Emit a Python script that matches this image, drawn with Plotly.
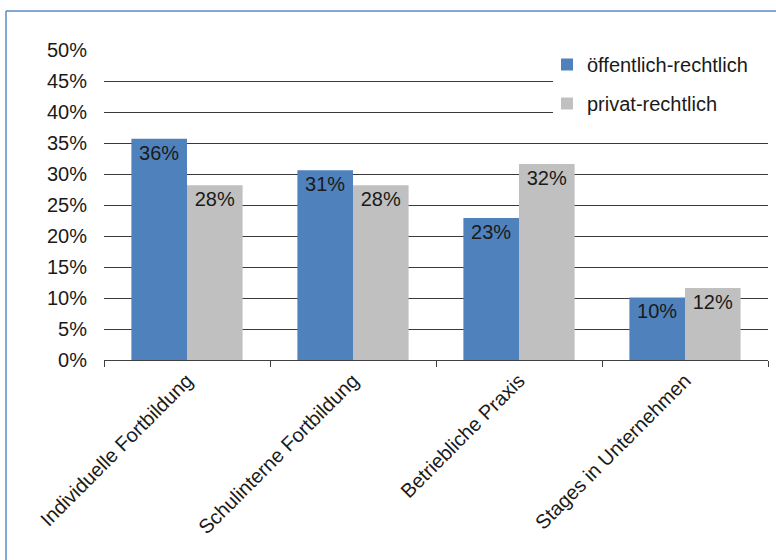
import plotly.graph_objects as go

categories = ["Individuelle Fortbildung", "Schulinterne Fortbildung",
              "Betriebliche Praxis", "Stages in Unternehmen"]
oeffentlich = [35.7, 30.6, 22.9, 10.1]
privat = [28.2, 28.2, 31.6, 11.6]
series_names = ["öffentlich-rechtlich", "privat-rechtlich"]
y_ticks = [0, 5, 10, 15, 20, 25, 30, 35, 40, 45, 50]
y_tick_labels = [f"{v}%" for v in y_ticks]

FONT = "Liberation Sans, Arial, sans-serif"
FS = 20
W, H = 776, 560
ML, MR, MT, MB = 104, 8, 50, 200
PW, PH = W - ML - MR, H - MT - MB

def px_x(p):
    return (p - ML) / PW

def px_y(p):
    return (H - MB - p) / PH

fig = go.Figure()
for name, vals, col in [(series_names[0], oeffentlich, "#4f81bd"),
                        (series_names[1], privat, "#c0c0c0")]:
    fig.add_trace(go.Bar(
        x=categories, y=vals, name=name, legendgroup=name,
        marker=dict(color=col, line=dict(width=0)),
        text=[f"{round(v)}%" for v in vals],
        textposition="inside", insidetextanchor="end",
        constraintext="none",
        textfont=dict(family=FONT, size=FS, color="#1a1a1a"),
        hoverinfo="skip",
    ))

fig.update_layout(
    width=W, height=H,
    margin=dict(l=ML, r=MR, t=MT, b=MB),
    paper_bgcolor="white", plot_bgcolor="white",
    barmode="group", bargap=0.33, bargroupgap=0,
    font=dict(family=FONT, size=FS, color="#1a1a1a"),
    showlegend=True,
    legend=dict(
        x=px_x(547), y=px_y(45), xanchor="left", yanchor="top",
        bgcolor="rgba(0,0,0,0)", borderwidth=0,
        font=dict(family=FONT, size=FS, color="#1a1a1a"),
        traceorder="grouped", tracegroupgap=10, itemwidth=30,
    ),
    xaxis=dict(
        type="category", tickson="boundaries", ticks="outside", ticklen=6,
        tickcolor="#404040", showline=True, linecolor="#404040", linewidth=1,
        tickangle=-45, showgrid=False,
        tickfont=dict(family=FONT, size=FS, color="#1a1a1a"),
    ),
    yaxis=dict(
        range=[0, 50], tickmode="array", tickvals=y_ticks, ticktext=y_tick_labels,
        showgrid=True, gridcolor="#3a3a3a", gridwidth=1,
        zeroline=False, showline=False, ticks="",
        ticklabelstandoff=16,
        tickfont=dict(family=FONT, size=FS, color="#1a1a1a"),
    ),
    shapes=[
        # white area behind the legend covering gridlines
        dict(type="rect", xref="paper", yref="paper",
             x0=px_x(553), x1=px_x(775), y0=px_y(128), y1=px_y(40),
             fillcolor="white", line=dict(width=0), layer="above"),
        # outer chart border (top and left)
        dict(type="line", xref="paper", yref="paper",
             x0=px_x(6), x1=px_x(780), y0=px_y(11), y1=px_y(11),
             line=dict(color="#5b8ac6", width=1.5)),
        dict(type="line", xref="paper", yref="paper",
             x0=px_x(6), x1=px_x(6), y0=px_y(11), y1=px_y(565),
             line=dict(color="#5b8ac6", width=1.5)),
    ],
)

fig.write_html("out.html")
